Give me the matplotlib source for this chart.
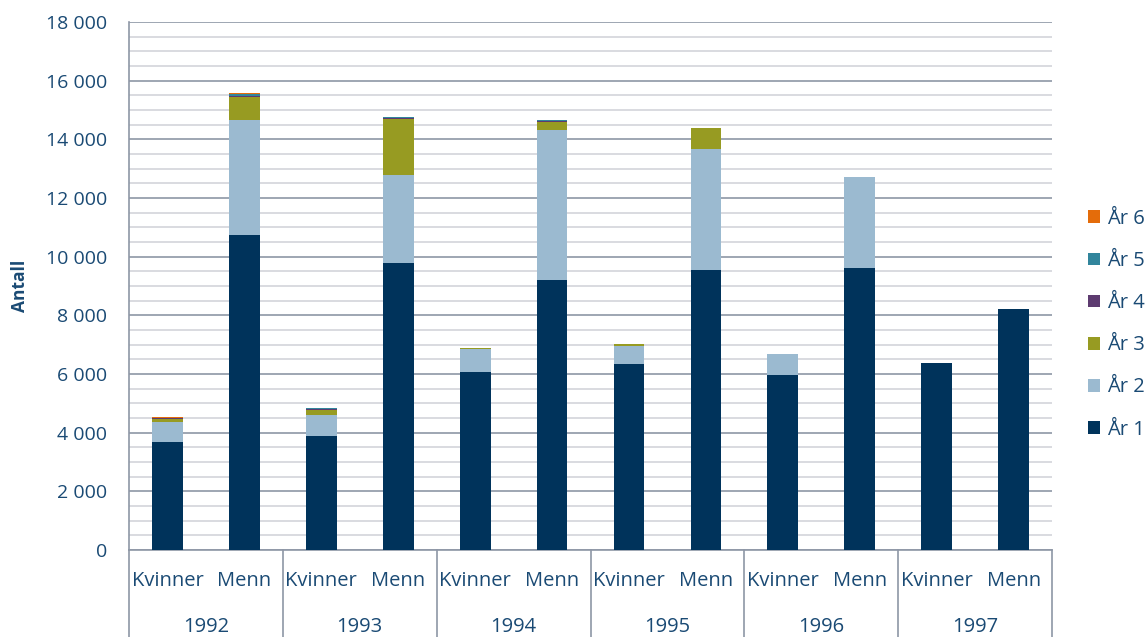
import numpy as np
import matplotlib.pyplot as plt
from matplotlib.ticker import MultipleLocator, FuncFormatter
from matplotlib.patches import Patch
import matplotlib.transforms as mtransforms

years = ['1992', '1993', '1994', '1995', '1996', '1997']
sexes = ['Kvinner', 'Menn']
series = ['År 1', 'År 2', 'År 3', 'År 4', 'År 5', 'År 6']

# one value per bar: Kvinner/Menn for each year
ar1 = [3680, 10750, 3870, 9790, 6080, 9200, 6330, 9550, 5955, 9630, 6365, 8230]
ar2 = [700, 3900, 730, 3000, 780, 5130, 615, 4120, 715, 3100, 0, 0]
ar3 = [80, 800, 185, 1890, 10, 270, 65, 700, 0, 0, 0, 0]
ar4 = [30, 30, 20, 50, 30, 40, 0, 0, 0, 0, 0, 0]
ar5 = [20, 50, 25, 20, 0, 15, 0, 0, 0, 0, 0, 0]
ar6 = [30, 40, 0, 0, 0, 0, 0, 0, 0, 0, 0, 0]

colors = ['#00335b', '#9bbad0', '#979b22', '#5d3b70', '#31859c', '#e46c0a']
txt = '#1a4a74'

plt.rcParams['font.family'] = ['Open Sans', 'DejaVu Sans']

fig = plt.figure(figsize=(11.48, 6.37), dpi=100)
ax = fig.add_axes([0.1124, 0.1366, 0.8040, 0.8289])

x = np.arange(len(ar1))
bottom = np.zeros(len(ar1))
for vals, col in zip([ar1, ar2, ar3, ar4, ar5, ar6], colors):
    vals = np.array(vals, dtype=float)
    ax.bar(x, vals, 0.4, bottom=bottom, color=col, edgecolor='none', zorder=3)
    bottom += vals

ax.set_xlim(-0.5, len(ar1) - 0.5)
ax.set_ylim(0, 18000)
ax.yaxis.set_major_locator(MultipleLocator(2000))
ax.yaxis.set_minor_locator(MultipleLocator(500))
ax.yaxis.set_major_formatter(FuncFormatter(lambda v, p: f'{int(v):,}'.replace(',', ' ')))
ax.grid(axis='y', which='major', color='#8e97a6', lw=1.2, zorder=0)
ax.grid(axis='y', which='minor', color='#d3d4da', lw=1.2, zorder=0)
ax.tick_params(axis='y', which='both', length=0, pad=16, labelsize=14, labelcolor=txt)
ax.tick_params(axis='x', length=0)
ax.set_xticks([])
for s in ['top', 'right']:
    ax.spines[s].set_visible(False)
ax.spines['left'].set_color('#8e97a6')
ax.spines['bottom'].set_color('#8e97a6')
ax.spines['left'].set_linewidth(1.2)
ax.spines['bottom'].set_linewidth(1.2)

ax.set_ylabel('Antall', fontsize=12.5, fontweight='bold', color=txt, labelpad=12)

trans = mtransforms.blended_transform_factory(ax.transData, ax.transAxes)
for i in range(len(ar1)):
    ax.text(x[i], -0.058, sexes[i % 2], transform=trans, ha='center', va='center',
            fontsize=14.5, color=txt)
for j, yr in enumerate(years):
    ax.text(2 * j + 0.5, -0.146, yr, transform=trans, ha='center', va='center',
            fontsize=14.5, color=txt)
for j in range(len(years) + 1):
    ax.plot([2 * j - 0.5, 2 * j - 0.5], [0, -0.17], transform=trans, color='#8e97a6',
            lw=1.2, clip_on=False)

handles = [Patch(facecolor=c, edgecolor='none') for c in colors][::-1]
fig.legend(handles, series[::-1], loc='center left', bbox_to_anchor=(0.939, 0.491),
           frameon=False, fontsize=14.5, labelcolor=txt, handlelength=0.6,
           handleheight=0.6, handletextpad=0.35, labelspacing=1.1, borderpad=0)

fig.savefig('out.png', dpi=100, facecolor='white')
